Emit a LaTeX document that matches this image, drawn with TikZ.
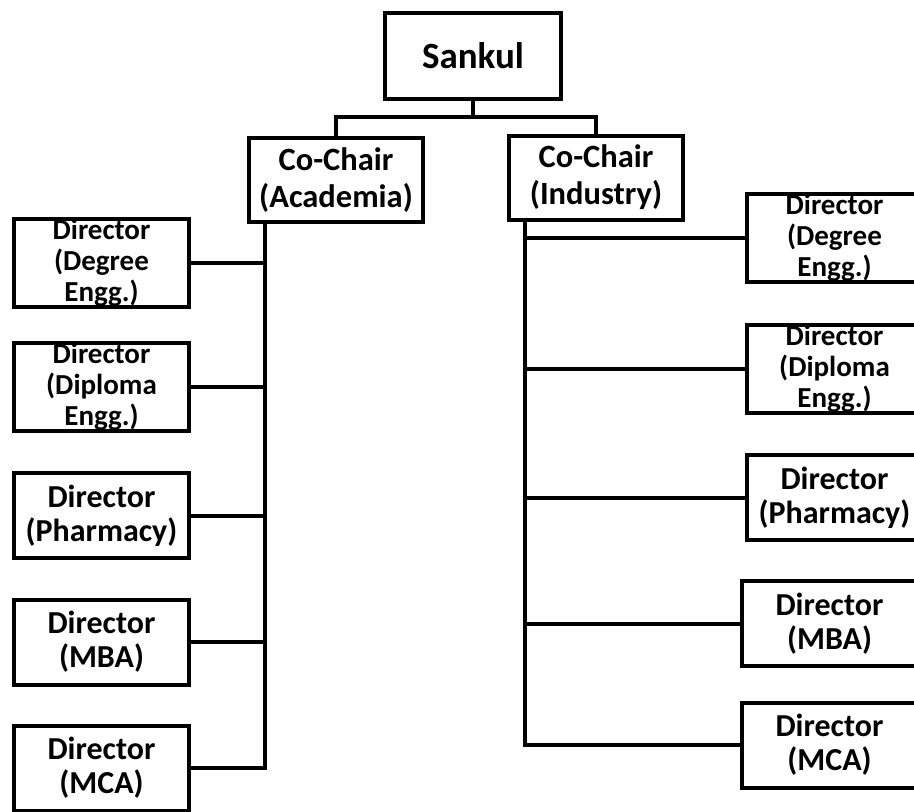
\documentclass[tikz,border=0pt]{standalone}
\usepackage{fontspec}
\setmainfont{Carlito}
\begin{document}
\begin{tikzpicture}[x=0.5pt,y=-0.5pt,line width=2pt,
 box/.style={draw,rectangle,inner sep=0pt,align=center,font=\bfseries},
 topbox/.style={box,minimum width=88pt,minimum height=43pt,font=\bfseries\fontsize{18.5}{20}\selectfont},
 chairbox/.style={box,minimum width=87pt,minimum height=42pt,font=\bfseries\fontsize{16.25}{18.5}\selectfont},
 dirbox/.style={box,minimum width=87.5pt,minimum height=42.5pt,font=\bfseries\fontsize{16}{17}\selectfont},
 dirboxs/.style={dirbox,font=\bfseries\fontsize{14.5}{15.5}\selectfont}]
\useasboundingbox (0,0) rectangle (914,811);
\clip (0,0) rectangle (914,811);

\node[topbox] (sankul) at (473,56) {Sankul};
\node[chairbox] (acad) at (336,180) {Co-Chair\\(Academia)};
\node[chairbox] (ind) at (596,177.5) {Co-Chair\\(Industry)};

\node[dirboxs] (dl1) at (101.5,263) {Director\\(Degree\\Engg.)};
\node[dirboxs] (dl2) at (101.5,387) {Director\\(Diploma\\Engg.)};
\node[dirbox] (dl3) at (101.5,515.5) {Director\\(Pharmacy)};
\node[dirbox] (dl4) at (101.5,642) {Director\\(MBA)};
\node[dirbox] (dl5) at (101.5,768) {Director\\(MCA)};

\node[dirboxs] (dr1) at (834.5,238) {Director\\(Degree\\Engg.)};
\node[dirboxs] (dr2) at (834.5,369) {Director\\(Diploma\\Engg.)};
\node[dirbox] (dr3) at (834.5,497.5) {Director\\(Pharmacy)};
\node[dirbox] (dr4) at (829.5,623.5) {Director\\(MBA)};
\node[dirbox] (dr5) at (829.5,745) {Director\\(MCA)};

\coordinate (fork) at (473,117);
\coordinate (ltrunk) at (265,0);
\coordinate (rtrunk) at (525,0);

\draw (sankul.south) -- (fork);
\draw (acad.north) |- (fork) -| (ind.north);

\draw (acad.south -| ltrunk) -- (dl5.east -| ltrunk) -- (dl5.east);
\foreach \i in {1,...,4} \draw (dl\i.east) -- (dl\i.east -| ltrunk);

\draw (ind.south -| rtrunk) -- (dr5.west -| rtrunk) -- (dr5.west);
\foreach \i in {1,...,4} \draw (dr\i.west) -- (dr\i.west -| rtrunk);

\end{tikzpicture}
\end{document}
